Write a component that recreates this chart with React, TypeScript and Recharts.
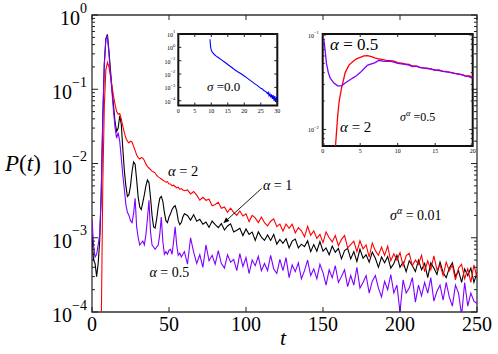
import React from 'react';
import { LineChart, Line, XAxis, YAxis, ReferenceArea } from 'recharts';

// main panel: P(t) for sigma^alpha = 0.01
const mainT = [
  0, 1, 2, 3, 4, 5, 6, 7, 8, 9,
  10, 11, 12, 13, 14, 15, 16, 17, 18, 19,
  20, 21, 22, 23, 24, 25, 26, 27, 28, 29,
  30, 31, 32, 33, 34, 35, 36, 37, 38, 39,
  40, 41, 42, 43, 44, 45, 46, 47, 48, 49,
  50, 51, 52, 53, 54, 55, 56, 57, 58, 59,
  60,
  62, 64, 66, 68, 70, 72, 74, 76, 78, 80,
  82, 84, 86, 88, 90, 92, 94, 96, 98, 100,
  102, 104, 106, 108, 110, 112, 114, 116, 118, 120,
  122, 124, 126, 128, 130, 132, 134, 136, 138, 140,
  142, 144, 146, 148, 150, 152, 154, 156, 158, 160,
  162, 164, 166, 168, 170, 172, 174, 176, 178, 180,
  182, 184, 186, 188, 190, 192, 194, 196, 198, 200,
  202, 204, 206, 208, 210, 212, 214, 216, 218, 220,
  222, 224, 226, 228, 230, 232, 234, 236, 238, 240,
  242, 244, 246, 248, 250,
];

const alpha2 = [
  null, null, null, null, null, null, 0.00006, 0.005, 0.06, 0.18,
  0.23, 0.2, 0.15, 0.11, 0.08, 0.062, 0.05, 0.046, 0.047, 0.04,
  0.032, 0.026, 0.022, 0.02, 0.019, 0.02, 0.0195, 0.017, 0.015, 0.013,
  0.012, 0.0115, 0.012, 0.0118, 0.011, 0.0098, 0.0091, 0.0087, 0.0083, 0.0079,
  0.0077, 0.0075, 0.0069, 0.0066, 0.0064, 0.0062, 0.006, 0.0058, 0.0056, 0.0057,
  0.0053, 0.0053, 0.005, 0.0051, 0.0049, 0.0047, 0.0048, 0.0045, 0.0046, 0.0044,
  0.0043,
  0.0044, 0.0039, 0.0042, 0.00375, 0.0032, 0.0035, 0.0032, 0.0033, 0.0027, 0.0028,
  0.003, 0.0025, 0.0026, 0.0022, 0.0025, 0.0022, 0.002, 0.0023, 0.00196, 0.0021,
  0.00165, 0.002, 0.00185, 0.0016, 0.0019, 0.0016, 0.00145, 0.00167, 0.0018, 0.00141,
  0.00153, 0.00123, 0.00153, 0.00134, 0.00152, 0.00116, 0.00137, 0.00124, 0.00103, 0.00143,
  0.00108, 0.00124, 0.00098, 0.00111, 0.00086, 0.0012, 0.001, 0.00088, 0.00107, 0.00078,
  0.00095, 0.00107, 0.00073, 0.00081, 0.0009, 0.00065, 0.00091, 0.00071, 0.0008, 0.00055,
  0.00085, 0.00067, 0.00058, 0.00075, 0.00058, 0.00077, 0.00049, 0.00061, 0.0005, 0.00063,
  0.00042, 0.00057, 0.00062, 0.00042, 0.0005, 0.00044, 0.00058, 0.00035, 0.00049, 0.00037,
  0.00057, 0.00037, 0.00043, 0.00031, 0.00047, 0.00036, 0.00043, 0.00027, 0.00039, 0.00044,
  0.00028, 0.00038, 0.00025, 0.00043, 0.00029,
];

const alpha1 = [
  0.0011, 0.0005, 0.00045, 0.0003, 0.00045, 0.0009, 0.004, 0.04, 0.22, 0.48,
  0.55, 0.33, 0.18, 0.1, 0.06, 0.036, 0.027, 0.03, 0.044, 0.034,
  0.016, 0.008, 0.005, 0.0036, 0.0038, 0.005, 0.0078, 0.0105, 0.0098, 0.006,
  0.0035, 0.0026, 0.0024, 0.003, 0.0038, 0.005, 0.006, 0.0055, 0.0035, 0.002,
  0.0014, 0.00135, 0.0018, 0.0026, 0.0034, 0.0036, 0.0031, 0.0022, 0.0017, 0.0016,
  0.0019, 0.0021, 0.0024, 0.0026, 0.0027, 0.0023, 0.0017, 0.0015, 0.0016, 0.0019,
  0.0021,
  0.002, 0.00173, 0.00205, 0.00167, 0.00177, 0.00152, 0.00163, 0.00138, 0.00168, 0.0015,
  0.00137, 0.00155, 0.00127, 0.00144, 0.00154, 0.0012, 0.00126, 0.00134, 0.00107, 0.00131,
  0.00111, 0.00119, 0.00092, 0.0012, 0.00102, 0.00092, 0.00109, 0.00092, 0.00111, 0.00082,
  0.00095, 0.00084, 0.00097, 0.00073, 0.0009, 0.00096, 0.00073, 0.00082, 0.00076, 0.00091,
  0.00065, 0.00081, 0.00066, 0.00089, 0.00066, 0.00073, 0.00059, 0.00077, 0.00064, 0.00072,
  0.00052, 0.00067, 0.00072, 0.00052, 0.00065, 0.00048, 0.0007, 0.00053, 0.00059, 0.00047,
  0.00064, 0.00053, 0.0004, 0.00055, 0.00046, 0.00056, 0.00039, 0.00045, 0.00058, 0.0004,
  0.00047, 0.00035, 0.00049, 0.00042, 0.00035, 0.0005, 0.00037, 0.00045, 0.00029, 0.00046,
  0.00039, 0.00032, 0.00047, 0.00034, 0.00029, 0.00039, 0.00046, 0.0003, 0.00036, 0.00025,
  0.00038, 0.00031, 0.00039, 0.00025, 0.00034,
];

const alpha05 = [
  0.0018, 0.0008, 0.00055, 0.0006, 0.0008, 0.0011, 0.004, 0.04, 0.22, 0.47,
  0.53, 0.3, 0.16, 0.09, 0.05, 0.03, 0.022, 0.026, 0.02, 0.012,
  0.007, 0.0045, 0.0028, 0.0022, 0.002, 0.0017, 0.0016, 0.0021, 0.0034, 0.0014,
  0.001, 0.0008, 0.00085, 0.0009, 0.0008, 0.0011, 0.0018, 0.0032, 0.0012, 0.0008,
  0.00075, 0.0007, 0.00075, 0.0008, 0.0011, 0.0019, 0.0009, 0.0006, 0.00065, 0.0006,
  0.00068, 0.0007, 0.0006, 0.0009, 0.0014, 0.0008, 0.00058, 0.00062, 0.00055, 0.0006,
  0.00065,
  0.00044, 0.001, 0.00064, 0.00045, 0.00059, 0.0004, 0.0008, 0.00049, 0.00058, 0.00044,
  0.00067, 0.00045, 0.00039, 0.00059, 0.00047, 0.00051, 0.00036, 0.00061, 0.00041, 0.00054,
  0.00033, 0.0005, 0.00042, 0.00056, 0.00036, 0.00045, 0.00036, 0.00058, 0.00038, 0.00033,
  0.00051, 0.00036, 0.00054, 0.00029, 0.00043, 0.00035, 0.00046, 0.00028, 0.00036, 0.0005,
  0.00031, 0.00038, 0.00028, 0.00044, 0.00034, 0.00023, 0.00037, 0.00029, 0.00042, 0.00025,
  0.0003, 0.00037, 0.00022, 0.00031, 0.00023, 0.0004, 0.00021, 0.00025, 0.00031, 0.00018,
  0.00026, 0.00031, 0.00021, 0.00016, 0.00026, 0.0002, 0.00032, 0.00018, 0.00023, 0.0001,
  0.00027, 0.00018, 0.00021, 0.00029, 0.000136, 0.00023, 0.000165, 0.00025, 0.00018, 0.00029,
  0.00014, 0.00019, 0.00023, 0.000145, 0.00025, 0.00016, 0.00012, 0.00023, 0.00018, 0.00009,
  0.00025, 0.00012, 0.00018, 0.00014, 0.00013,
];

const mainXTicks = [0, 50, 100, 150, 200, 250];
const mainDecades = [1e-4, 1e-3, 1e-2, 1e-1, 1];

// left inset: sigma = 0.0
const sig0T = [
  9.6, 9.65, 9.7, 9.8, 9.9, 10, 10.25, 10.5, 11, 11.5,
  12, 13, 14, 15, 16, 17, 18, 19, 20, 21,
  22, 23, 24, 25, 25.5, 26, 26.5, 27, 27.25, 27.5,
  27.75, 28, 28.25, 28.5, 28.75, 29, 29.25, 29.5, 29.75, 30,
];
const sig0P = [
  4.0, 2.8, 1.9, 1.1, 0.8, 0.62, 0.46, 0.38, 0.28, 0.22,
  0.18, 0.12, 0.079, 0.052, 0.034, 0.022, 0.015, 0.0105, 0.0071, 0.0047,
  0.0031, 0.002, 0.00135, 0.00085, 0.00075, 0.00055, 0.0005, 0.00034, 0.00042, 0.00024,
  0.00033, 0.00018, 0.0003, 0.00014, 0.00026, 0.0001, 0.00022, 0.00008, 0.00018, 0.00007,
];
const inset1XTicks = [0, 5, 10, 15, 20, 25, 30];
const inset1YTicks = [1e-4, 1e-3, 1e-2, 1e-1, 1, 10];

// right inset: sigma^alpha = 0.5
const s05T_a05 = [
  0.15, 0.3, 0.5, 0.75, 1, 1.5, 2, 2.5, 3, 3.5,
  4, 4.5, 5, 5.5, 6, 6.5, 7, 7.5, 8, 8.5,
  9, 9.5, 10, 10.5, 11, 11.5, 12, 12.5, 13, 13.5,
  14, 14.5, 15, 15.5, 16, 16.5, 17, 17.5, 18, 18.5,
  19, 19.5, 20,
];
const s05P_a05 = [
  0.091, 0.071, 0.05, 0.04, 0.035, 0.031, 0.029, 0.029, 0.031, 0.033,
  0.035, 0.037, 0.04, 0.044, 0.048, 0.0495, 0.051, 0.054, 0.053, 0.0525,
  0.053, 0.0515, 0.05, 0.0495, 0.049, 0.048, 0.0462, 0.0468, 0.0452, 0.0447,
  0.0442, 0.0437, 0.0422, 0.0427, 0.0412, 0.0407, 0.0403, 0.0394, 0.0385, 0.038,
  0.0367, 0.0363, 0.0347,
];
const s05T_a2 = [
  1.6, 1.8, 2, 2.2, 2.5, 3, 3.5, 4, 4.5, 5,
  5.5, 6, 6.5, 7, 7.5, 8, 8.5, 9, 9.5, 10,
  10.5, 11, 11.5, 12, 12.5, 13, 13.5, 14, 14.5, 15,
  15.5, 16, 16.5, 17, 17.5, 18, 18.5, 19, 19.5, 20,
];
const s05P_a2 = [
  0.005, 0.0085, 0.014, 0.02, 0.027, 0.04, 0.048, 0.052, 0.056, 0.058,
  0.06, 0.0605, 0.059, 0.057, 0.056, 0.055, 0.054, 0.0535, 0.053, 0.051,
  0.0505, 0.0495, 0.049, 0.047, 0.0468, 0.0455, 0.0448, 0.0443, 0.0432, 0.0426,
  0.0421, 0.0414, 0.041, 0.0401, 0.0393, 0.039, 0.0381, 0.0372, 0.0368, 0.036,
];
const inset2XTicks = [0, 5, 10, 15, 20];
const inset2YTicks = [0.007, 0.008, 0.009, 0.01, 0.02, 0.03, 0.04, 0.05, 0.06, 0.07, 0.08, 0.09, 0.1];

const MINOR = [2, 3, 4, 5, 6, 7, 8, 9];
const SERIF = "'Liberation Serif', 'DejaVu Serif', serif";

type Frame = { l: number; r: number; t: number; b: number };

const logTicks = (decades: number[], lo: number, hi: number) => {
  const out: number[] = [];
  decades.forEach((d) => {
    out.push(d);
    MINOR.forEach((m) => { const v = d * m; if (v >= lo && v <= hi) out.push(v); });
  });
  return out.sort((a, b) => a - b);
};

const LogTick = (props: any) => {
  const { y, payload, frame, major, minor, font, sup, gap } = props;
  const v = Number(payload.value);
  const lg = Math.log10(v);
  const e = Math.round(lg);
  const isMajor = Math.abs(lg - e) < 1e-6;
  const len = isMajor ? major : minor;
  return (
    <g>
      <line x1={frame.l} x2={frame.l + len} y1={y} y2={y} stroke="#222" strokeWidth={1} />
      <line x1={frame.r - len} x2={frame.r} y1={y} y2={y} stroke="#222" strokeWidth={1} />
      {isMajor && (
        <text x={frame.l - gap} y={y + font * 0.5} textAnchor="end" fontSize={font} style={{ fontFamily: SERIF }} fill="#000">
          10<tspan dy={-font * 0.62} fontSize={sup}>{e < 0 ? `\u2212${-e}` : `${e}`}</tspan>
        </text>
      )}
    </g>
  );
};

const LinTick = (props: any) => {
  const { x, payload, frame, len, font, dy } = props;
  return (
    <g>
      <line x1={x} x2={x} y1={frame.b} y2={frame.b - len} stroke="#222" strokeWidth={1} />
      <line x1={x} x2={x} y1={frame.t} y2={frame.t + len} stroke="#222" strokeWidth={1} />
      <text x={x} y={frame.b + dy} textAnchor="middle" fontSize={font} style={{ fontFamily: SERIF }} fill="#000">
        {payload.value}
      </text>
    </g>
  );
};

const MAIN: Frame = { l: 92, r: 477, t: 15, b: 312 };
const IN1: Frame = { l: 28.3, r: 127.3, t: 14, b: 85.5 };
const IN2: Frame = { l: 27.7, r: 177.7, t: 14, b: 126 };

function MainPanel() {
  const rows = mainT.map((t, i) => ({ t, a2: alpha2[i], a1: alpha1[i], a05: alpha05[i] }));
  const yTicks = logTicks(mainDecades, 1e-4, 1);
  return (
    <LineChart width={498} height={354} data={rows} margin={{ top: 15, right: 21, bottom: 0, left: 0 }}>
      <XAxis dataKey="t" type="number" domain={[0, 250]} ticks={mainXTicks} interval={0} height={42}
        axisLine={false} tickLine={false} tickSize={0} tickMargin={0} allowDataOverflow
        tick={<LinTick frame={MAIN} len={5} font={20} dy={19} />} />
      <YAxis type="number" scale="log" domain={[1e-4, 1.001]} ticks={yTicks} interval={0} width={92}
        axisLine={false} tickLine={false} tickSize={0} tickMargin={0} allowDataOverflow
        tick={<LogTick frame={MAIN} major={6} minor={3} font={20} sup={14} gap={5} />} />
      <ReferenceArea x1={0} x2={250} y1={1e-4} y2={1.001} fill="none" stroke="#333" strokeWidth={1.3} ifOverflow="visible" />
      <Line dataKey="a1" stroke="#000000" strokeWidth={1.1} dot={false} isAnimationActive={false} />
      <Line dataKey="a2" stroke="#ff0000" strokeWidth={1.1} dot={false} isAnimationActive={false} />
      <Line dataKey="a05" stroke="#7f00ff" strokeWidth={1.1} dot={false} isAnimationActive={false} />
    </LineChart>
  );
}

function InsetSigma0() {
  const rows = sig0T.map((t, i) => ({ t, p: sig0P[i] }));
  return (
    <LineChart width={135} height={100} data={rows} margin={{ top: 14, right: 7.7, bottom: 0, left: 0 }}>
      <XAxis dataKey="t" type="number" domain={[0, 30]} ticks={inset1XTicks} interval={0} height={14.5}
        axisLine={false} tickLine={false} tickSize={0} tickMargin={0} allowDataOverflow
        tick={<LinTick frame={IN1} len={3} font={6} dy={7.5} />} />
      <YAxis type="number" scale="log" domain={[4.4e-5, 10.01]} ticks={inset1YTicks} interval={0} width={28.3}
        axisLine={false} tickLine={false} tickSize={0} tickMargin={0} allowDataOverflow
        tick={<LogTick frame={IN1} major={3} minor={1.5} font={6} sup={4.5} gap={3} />} />
      <ReferenceArea x1={0} x2={30} y1={4.4e-5} y2={10.01} fill="#fff" stroke="#111" strokeWidth={2} ifOverflow="visible" />
      <Line dataKey="p" stroke="#0000ff" strokeWidth={1.1} dot={false} isAnimationActive={false} />
    </LineChart>
  );
}

function InsetSigma05() {
  const a05 = s05T_a05.map((t, i) => ({ t, p: s05P_a05[i] }));
  const a2 = s05T_a2.map((t, i) => ({ t, p: s05P_a2[i] }));
  return (
    <LineChart width={190} height={140} margin={{ top: 14, right: 12.3, bottom: 0, left: 0 }}>
      <XAxis dataKey="t" type="number" domain={[0, 20]} ticks={inset2XTicks} interval={0} height={14}
        axisLine={false} tickLine={false} tickSize={0} tickMargin={0} allowDataOverflow
        tick={<LinTick frame={IN2} len={3} font={6} dy={7} />} />
      <YAxis type="number" scale="log" domain={[0.00668, 0.1025]} ticks={inset2YTicks} interval={0} width={27.7}
        axisLine={false} tickLine={false} tickSize={0} tickMargin={0} allowDataOverflow
        tick={<LogTick frame={IN2} major={3.5} minor={2} font={6} sup={4.5} gap={4} />} />
      <ReferenceArea x1={0} x2={20} y1={0.00668} y2={0.1025} fill="#fff" stroke="#111" strokeWidth={2} ifOverflow="visible" />
      <Line data={a2} dataKey="p" stroke="#ff0000" strokeWidth={1.3} dot={false} isAnimationActive={false} />
      <Line data={a05} dataKey="p" stroke="#7f00ff" strokeWidth={1.3} dot={false} isAnimationActive={false} />
    </LineChart>
  );
}

function Notes() {
  const it = { fontStyle: 'italic' as const };
  return (
    <svg width={498} height={354} style={{ position: 'absolute', left: 0, top: 0, pointerEvents: 'none', fontFamily: SERIF }}>
      <text x={5} y={171} fontSize={23}><tspan {...it}>P</tspan>(<tspan {...it}>t</tspan>)</text>
      <text x={280} y={345} fontSize={22} {...it}>t</text>

      <text x={168} y={176} fontSize={14.5}><tspan {...it}>α</tspan> = 2</text>
      <text x={263} y={189.5} fontSize={14}><tspan {...it}>α</tspan> = 1</text>
      <line x1={261.7} y1={188.3} x2={226} y2={220.8} stroke="#000" strokeWidth={0.9} />
      <polygon points="223.3,223.3 229.4,221.1 226.0,217.4" fill="#000" />
      <text x={149.5} y={276.5} fontSize={14}><tspan {...it}>α</tspan> = 0.5</text>
      <text x={390} y={219.5} fontSize={14}><tspan {...it}>σ</tspan><tspan {...it} dy={-6} fontSize={10}>α</tspan><tspan dy={6}> = 0.01</tspan></text>

      <text x={207} y={91} fontSize={13}><tspan {...it}>σ</tspan> =0.0</text>

      <text x={330} y={50} fontSize={17}><tspan {...it}>α</tspan> = 0.5</text>
      <text x={340} y={132} fontSize={15}><tspan {...it}>α</tspan> = 2</text>
      <text x={400} y={121} fontSize={12}><tspan {...it}>σ</tspan><tspan {...it} dy={-5} fontSize={8.5}>α</tspan><tspan dy={5}> =0.5</tspan></text>
    </svg>
  );
}

export default function App() {
  return (
    <div style={{ position: 'absolute', left: 0, top: 0, width: 498, height: 354, background: '#fff', overflow: 'hidden' }}>
      <MainPanel />
      <div style={{ position: 'absolute', left: 150, top: 20 }}>
        <InsetSigma0 />
      </div>
      <div style={{ position: 'absolute', left: 295, top: 20 }}>
        <InsetSigma05 />
      </div>
      <Notes />
    </div>
  );
}
